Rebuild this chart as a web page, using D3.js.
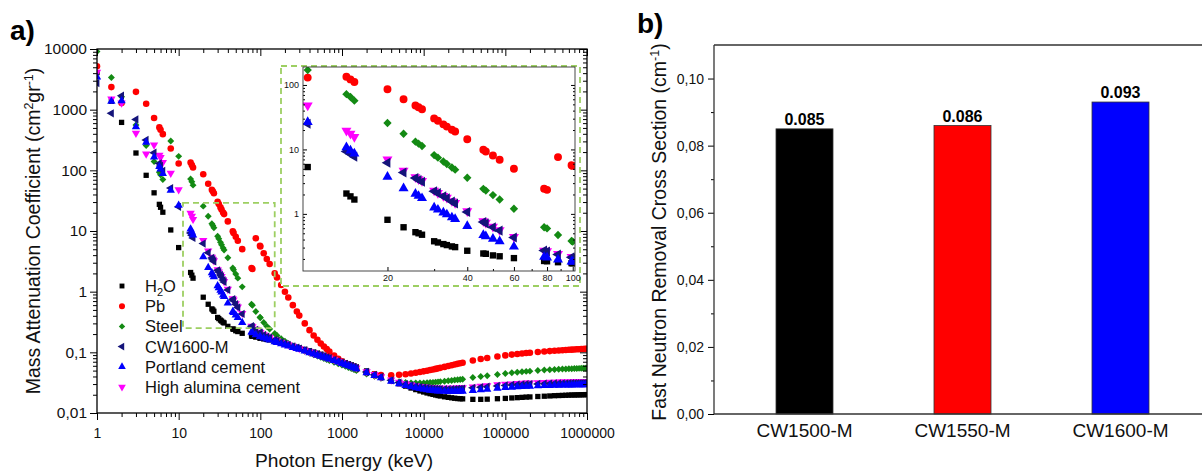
<!DOCTYPE html>
<html>
<head>
<meta charset="utf-8">
<script src="https://cdn.jsdelivr.net/npm/d3@7"></script>
<style>
  body { margin: 0; background: #fff; }
  svg { font-family: "Liberation Sans", Arial, sans-serif; }
</style>
</head>
<body>
<svg id="chart" width="1202" height="475"></svg>
<script>
// photon energies (keV), shared by all materials
const energies = [
  1, 1.5, 2, 3, 4, 5, 5.8, 6, 6.4, 8, 10,
  14, 14.5, 15, 20, 23, 25.5, 26.2, 27, 30, 31, 32.5, 33.5, 35, 36, 40, 46, 47, 50, 53, 60, 78, 80, 88, 99, 100,
  110, 120, 130, 150, 160, 180, 200, 220, 250, 280, 300, 350, 400, 450, 500, 550, 600, 650, 700, 800, 900, 1000, 1100, 1200, 1300, 1400, 1500,
  2000, 2500, 3000, 4000,
  5000, 6000, 7000, 8000, 9000, 10000, 11000, 12000, 13000, 14000, 15000, 16000, 18000, 20000, 22000, 24000, 26000, 28000, 30000,
  40000, 50000, 60000, 80000,
  100000, 120000, 140000, 160000, 180000, 200000, 250000, 300000, 350000, 400000, 450000, 500000, 550000, 600000, 650000, 700000, 750000, 800000, 850000, 900000, 950000, 1000000
];

// mass attenuation coefficients (cm2/g)
const muWater = [
  4078, 1376, 617, 193, 82.8, 42.6, 27.5, 24.6, 20.4, 10.4, 5.33,
  2.07, 1.87, 1.67, 0.81, 0.62, 0.52, 0.50, 0.475, 0.376, 0.36, 0.34, 0.328, 0.313, 0.305, 0.268, 0.243, 0.24, 0.227, 0.22, 0.206, 0.186, 0.184, 0.178, 0.172, 0.171,
  0.1665, 0.163, 0.16, 0.1505, 0.147, 0.142, 0.137, 0.1325, 0.127, 0.121, 0.1186, 0.112, 0.1061, 0.101, 0.0969, 0.093, 0.0896, 0.0866, 0.0839, 0.0787, 0.0743, 0.0707, 0.0676, 0.0648, 0.0623, 0.0599, 0.0575,
  0.0494, 0.044, 0.0397, 0.034,
  0.0303, 0.0277, 0.0258, 0.0243, 0.0231, 0.0222, 0.0214, 0.0208, 0.0203, 0.0198, 0.0194, 0.0191, 0.0185, 0.0181, 0.0178, 0.0175, 0.0173, 0.0172, 0.0171,
  0.0168, 0.0168, 0.0169, 0.0172,
  0.0174, 0.0177, 0.0179, 0.0181, 0.0183, 0.0184, 0.0187, 0.0189, 0.0191, 0.0193, 0.0194, 0.0195, 0.0196, 0.0197, 0.0198, 0.0198, 0.0199, 0.0199, 0.02, 0.02, 0.0201, 0.0201
];
const muLead = [
  5210, 2356, 1285, 1965, 1251, 730, 510, 467, 395, 229, 130,
  134, 122, 111, 86, 60, 48, 45, 42, 30.3, 27.8, 24.5, 22.6, 20.2, 19, 14.4, 9.9, 9.3, 8.04, 6.9, 5.02, 2.45, 2.36, 7.6, 5.7, 5.55,
  4.3, 3.45, 2.85, 2.01, 1.72, 1.29, 0.999, 0.80, 0.60, 0.47, 0.403, 0.30, 0.232, 0.19, 0.161, 0.14, 0.125, 0.113, 0.103, 0.0887, 0.0785, 0.071, 0.0652, 0.0612, 0.058, 0.0547, 0.0522,
  0.0461, 0.0436, 0.0423, 0.042,
  0.0427, 0.0436, 0.0448, 0.046, 0.0473, 0.0486, 0.0498, 0.051, 0.0522, 0.0533, 0.0544, 0.0555, 0.0575, 0.0595, 0.0613, 0.063, 0.0646, 0.066, 0.0674,
  0.0735, 0.0775, 0.0808, 0.0855,
  0.089, 0.0918, 0.094, 0.0958, 0.0973, 0.0986, 0.1012, 0.1032, 0.1048, 0.1062, 0.1074, 0.1084, 0.1093, 0.1101, 0.1108, 0.1115, 0.1121, 0.1127, 0.1132, 0.1137, 0.1141, 0.1145
];
const muSteel = [
  9085, 3399, 1626, 558, 257, 140, 93, 84.4, 70.5, 305, 170,
  72, 65, 57, 25.7, 17.5, 13.2, 12.3, 11.3, 8.18, 7.45, 6.5, 5.95, 5.25, 4.85, 3.63, 2.45, 2.3, 1.96, 1.67, 1.2, 0.62, 0.595, 0.47, 0.38, 0.372,
  0.31, 0.27, 0.243, 0.205, 0.19, 0.168, 0.152, 0.14, 0.128, 0.119, 0.114, 0.104, 0.097, 0.091, 0.0865, 0.0825, 0.079, 0.076, 0.0735, 0.0688, 0.0648, 0.0615, 0.0587, 0.0562, 0.054, 0.052, 0.0502,
  0.0438, 0.0402, 0.0375, 0.0343,
  0.0327, 0.0318, 0.0314, 0.0312, 0.0312, 0.0313, 0.0315, 0.0318, 0.032, 0.0323, 0.0326, 0.0329, 0.0334, 0.0339, 0.0344, 0.0349, 0.0353, 0.0357, 0.0361,
  0.0385, 0.04, 0.0412, 0.0432,
  0.0448, 0.046, 0.047, 0.0478, 0.0485, 0.049, 0.0502, 0.051, 0.0517, 0.0522, 0.0527, 0.053, 0.0533, 0.0536, 0.0538, 0.054, 0.0542, 0.0544, 0.0545, 0.0547, 0.0548, 0.055
];
const muCW1600 = [
  2750, 870, 1700, 690, 316, 195, 130, 118, 98, 51, 25,
  9.3, 8.5, 7.7, 6.2, 4.4, 3.6, 3.35, 3.15, 2.25, 2.1, 1.88, 1.75, 1.55, 1.45, 1.07, 0.75, 0.71, 0.62, 0.55, 0.43, 0.27, 0.26, 0.235, 0.212, 0.208,
  0.193, 0.182, 0.174, 0.16, 0.154, 0.146, 0.139, 0.133, 0.125, 0.119, 0.115, 0.108, 0.102, 0.097, 0.0925, 0.0888, 0.0855, 0.0825, 0.08, 0.0752, 0.071, 0.0674, 0.0644, 0.0617, 0.0592, 0.057, 0.055,
  0.0474, 0.0426, 0.0392, 0.0346,
  0.0317, 0.0298, 0.0285, 0.0275, 0.0268, 0.0262, 0.0258, 0.0255, 0.0252, 0.025, 0.0249, 0.0248, 0.0247, 0.0247, 0.0247, 0.0248, 0.0249, 0.025, 0.0251,
  0.026, 0.0266, 0.0271, 0.0279,
  0.0285, 0.029, 0.0293, 0.0296, 0.0298, 0.03, 0.0302, 0.0304, 0.0305, 0.0306, 0.0307, 0.0308, 0.0308, 0.0309, 0.0309, 0.031, 0.031, 0.031, 0.0311, 0.0311, 0.0311, 0.0312
];
const muPortland = [
  3450, 1370, 1400, 520, 290, 165, 115, 105, 88, 47, 26.5,
  10.8, 9.6, 8.6, 3.75, 2.5, 2.05, 1.9, 1.75, 1.25, 1.16, 1.05, 0.98, 0.88, 0.83, 0.645, 0.47, 0.45, 0.41, 0.375, 0.31, 0.215, 0.21, 0.195, 0.182, 0.18,
  0.172, 0.165, 0.159, 0.149, 0.145, 0.138, 0.132, 0.127, 0.12, 0.115, 0.112, 0.105, 0.0985, 0.0935, 0.0895, 0.086, 0.0828, 0.08, 0.0775, 0.0728, 0.0688, 0.0653, 0.0624, 0.0598, 0.0574, 0.0553, 0.0533,
  0.0459, 0.0412, 0.0378, 0.0332,
  0.0303, 0.0284, 0.027, 0.026, 0.0252, 0.0246, 0.0241, 0.0237, 0.0234, 0.0232, 0.023, 0.0229, 0.0227, 0.0226, 0.0226, 0.0226, 0.0226, 0.0227, 0.0228,
  0.0235, 0.024, 0.0245, 0.0255,
  0.0262, 0.0266, 0.0269, 0.0272, 0.0274, 0.0276, 0.0279, 0.0282, 0.0284, 0.0285, 0.0286, 0.0287, 0.0288, 0.0289, 0.0289, 0.029, 0.029, 0.0291, 0.0291, 0.0292, 0.0292, 0.0293
];
const muHighAlumina = [
  4170, 1500, 1290, 410, 187, 262, 178, 163, 135, 90, 48,
  19.6, 17.5, 15.6, 7.0, 4.7, 3.7, 3.45, 3.25, 2.3, 2.12, 1.9, 1.78, 1.58, 1.48, 1.1, 0.77, 0.73, 0.635, 0.56, 0.44, 0.27, 0.265, 0.24, 0.216, 0.213,
  0.196, 0.185, 0.176, 0.162, 0.156, 0.147, 0.14, 0.134, 0.126, 0.12, 0.116, 0.109, 0.103, 0.098, 0.0935, 0.0897, 0.0863, 0.0833, 0.0807, 0.0759, 0.0717, 0.068, 0.065, 0.0623, 0.0598, 0.0576, 0.0556,
  0.048, 0.0432, 0.0398, 0.0352,
  0.0323, 0.0305, 0.0292, 0.0282, 0.0275, 0.027, 0.0266, 0.0263, 0.026, 0.0258, 0.0257, 0.0256, 0.0256, 0.0256, 0.0257, 0.0258, 0.0259, 0.026, 0.0262,
  0.027, 0.0277, 0.0283, 0.0292,
  0.0298, 0.0303, 0.0307, 0.031, 0.0312, 0.0314, 0.0317, 0.032, 0.0322, 0.0323, 0.0324, 0.0325, 0.0326, 0.0327, 0.0327, 0.0328, 0.0328, 0.0329, 0.0329, 0.033, 0.033, 0.0331
];

// panel b
const materials = ['CW1500-M', 'CW1550-M', 'CW1600-M'];
const removalCrossSection = [0.085, 0.086, 0.093];
const barColors = ['#000000', '#ff0000', '#0000ff'];

// tick labels
const xTickValues = [1, 10, 100, 1000, 10000, 100000, 1000000];
const yTickValues = [0.01, 0.1, 1, 10, 100, 1000, 10000];
const yTickLabels = ['0,01', '0,1', '1', '10', '100', '1000', '10000'];
const insetXTicks = [20, 40, 60, 80, 100];
const insetXMinor = [30, 50, 70, 90];
const insetYTicks = [1, 10, 100];
const barTicks = [0, 0.02, 0.04, 0.06, 0.08, 0.10];
const barMinorTicks = [0.01, 0.03, 0.05, 0.07, 0.09];

const svg = d3.select('#chart');

function logMinor(lo, hi, min, max) {
    let out = [];
    for (let p = lo; p < hi; p++) {
        for (let m = 2; m <= 9; m++) {
            let v = m * Math.pow(10, p);
            if (v > min && v < max) out.push(v);
        }
    }
    return out;
}

function styleAxis(g) {
    g.select('.domain').remove();
    g.selectAll('line').attr('stroke', '#000').attr('stroke-width', 1);
    g.selectAll('text').attr('fill', '#111');
}

// series look, legend order
const series = [
    {name: 'H2O', values: muWater, color: '#000000', symbol: d3.symbolSquare, size: 28, rotate: 0},
    {name: 'Pb', values: muLead, color: '#ff0000', symbol: d3.symbolCircle, size: 34, rotate: 0},
    {name: 'Steel', values: muSteel, color: '#138a13', symbol: d3.symbolSquare, size: 24, rotate: 45},
    {name: 'CW1600-M', values: muCW1600, color: '#14147a', symbol: d3.symbolTriangle, size: 30, rotate: -90},
    {name: 'Portland cement', values: muPortland, color: '#0000ff', symbol: d3.symbolTriangle, size: 30, rotate: 0},
    {name: 'High alumina cement', values: muHighAlumina, color: '#ff00ff', symbol: d3.symbolTriangle, size: 30, rotate: 180}
];
const drawOrder = [0, 1, 2, 5, 3, 4];

function drawPoints(g, xs, ys, scaleUp) {
    drawOrder.forEach(idx => {
        let s = series[idx];
        let sym = d3.symbol().type(s.symbol).size(s.size * scaleUp);
        let pts = energies.map((e, i) => ({e: e, v: s.values[i]}));
        g.append('g').selectAll('path')
            .data(pts)
            .enter().append('path')
            .attr('d', sym)
            .attr('fill', s.color)
            .attr('transform', d => `translate(${xs(d.e)},${ys(d.v)}) rotate(${s.rotate})`);
    });
}

// ---------------- panel a ----------------
const mainX = d3.scaleLog().domain([1, 1e6]).range([97, 587]);
const mainY = d3.scaleLog().domain([0.01, 10000]).range([413, 49]);

svg.append('clipPath').attr('id', 'clipMain')
    .append('rect').attr('x', 97).attr('y', 49).attr('width', 490).attr('height', 364);

let mainPoints = svg.append('g').attr('clip-path', 'url(#clipMain)');
drawPoints(mainPoints, mainX, mainY, 1);

// bottom axis
svg.append('g').attr('transform', 'translate(0,413)')
    .call(d3.axisBottom(mainX).tickValues(xTickValues).tickFormat(d3.format('d')).tickSize(7).tickPadding(8))
    .call(styleAxis)
    .selectAll('text').attr('font-size', 14);
svg.append('g').attr('transform', 'translate(0,413)')
    .call(d3.axisBottom(mainX).tickValues(logMinor(0, 6, 1, 1e6)).tickFormat('').tickSize(4))
    .call(styleAxis);
// top mirror
svg.append('g').attr('transform', 'translate(0,49)')
    .call(d3.axisBottom(mainX).tickValues(xTickValues).tickFormat('').tickSize(7))
    .call(styleAxis);
svg.append('g').attr('transform', 'translate(0,49)')
    .call(d3.axisBottom(mainX).tickValues(logMinor(0, 6, 1, 1e6)).tickFormat('').tickSize(4))
    .call(styleAxis);
// left axis
svg.append('g').attr('transform', 'translate(97,0)')
    .call(d3.axisLeft(mainY).tickValues(yTickValues).tickFormat((d, i) => yTickLabels[i]).tickSize(7).tickPadding(3))
    .call(styleAxis)
    .selectAll('text').attr('font-size', 15.5);
svg.append('g').attr('transform', 'translate(97,0)')
    .call(d3.axisLeft(mainY).tickValues(logMinor(-2, 4, 0.01, 10000)).tickFormat('').tickSize(4))
    .call(styleAxis);
// right mirror
svg.append('g').attr('transform', 'translate(587,0)')
    .call(d3.axisLeft(mainY).tickValues(yTickValues).tickFormat('').tickSize(7))
    .call(styleAxis);
svg.append('g').attr('transform', 'translate(587,0)')
    .call(d3.axisLeft(mainY).tickValues(logMinor(-2, 4, 0.01, 10000)).tickFormat('').tickSize(4))
    .call(styleAxis);

svg.append('rect').attr('x', 97).attr('y', 49).attr('width', 490).attr('height', 364)
    .attr('fill', 'none').attr('stroke', '#000').attr('stroke-width', 1.3);

// zoom box marking the inset range
const zoomBoxX = [11.3, 150];
const zoomBoxY = [0.25, 29];
const dashColor = '#9dcf62';
svg.append('rect')
    .attr('x', mainX(zoomBoxX[0])).attr('y', mainY(zoomBoxY[1]))
    .attr('width', mainX(zoomBoxX[1]) - mainX(zoomBoxX[0]))
    .attr('height', mainY(zoomBoxY[0]) - mainY(zoomBoxY[1]))
    .attr('fill', 'none').attr('stroke', dashColor).attr('stroke-width', 1.8)
    .attr('stroke-dasharray', '6,4');

// inset
svg.append('rect').attr('x', 281).attr('y', 66).attr('width', 299).attr('height', 220)
    .attr('fill', '#fff').attr('stroke', dashColor).attr('stroke-width', 1.8)
    .attr('stroke-dasharray', '6,4');

const insetX = d3.scaleLog().domain([9.6, 102]).range([303, 575]);
const insetY = d3.scaleLog().domain([0.13, 190]).range([271, 67]);

svg.append('clipPath').attr('id', 'clipInset')
    .append('rect').attr('x', 303).attr('y', 67).attr('width', 272).attr('height', 204);
let insetPoints = svg.append('g').attr('clip-path', 'url(#clipInset)');
drawPoints(insetPoints, insetX, insetY, 1.45);

svg.append('g').attr('transform', 'translate(0,271)')
    .call(d3.axisBottom(insetX).tickValues(insetXTicks).tickFormat(d3.format('d')).tickSizeInner(-4).tickSizeOuter(0).tickPadding(4))
    .call(styleAxis)
    .selectAll('text').attr('font-size', 9);
svg.append('g').attr('transform', 'translate(0,271)')
    .call(d3.axisBottom(insetX).tickValues(insetXMinor).tickFormat('').tickSizeInner(-2).tickSizeOuter(0))
    .call(styleAxis);
svg.append('g').attr('transform', 'translate(303,0)')
    .call(d3.axisLeft(insetY).tickValues(insetYTicks).tickFormat(d3.format('d')).tickSizeInner(-4).tickSizeOuter(0).tickPadding(4))
    .call(styleAxis)
    .selectAll('text').attr('font-size', 9);
svg.append('g').attr('transform', 'translate(303,0)')
    .call(d3.axisLeft(insetY).tickValues(logMinor(-1, 3, 0.13, 190)).tickFormat('').tickSizeInner(-2).tickSizeOuter(0))
    .call(styleAxis);
svg.append('g').attr('transform', 'translate(575,0)')
    .call(d3.axisRight(insetY).tickValues(insetYTicks).tickFormat('').tickSizeInner(-4).tickSizeOuter(0))
    .call(styleAxis);
svg.append('g').attr('transform', 'translate(575,0)')
    .call(d3.axisRight(insetY).tickValues(logMinor(-1, 3, 0.13, 190)).tickFormat('').tickSizeInner(-2).tickSizeOuter(0))
    .call(styleAxis);
svg.append('rect').attr('x', 303).attr('y', 67).attr('width', 272).attr('height', 204)
    .attr('fill', 'none').attr('stroke', '#333').attr('stroke-width', 0.9);

// legend
const legendTop = 286, legendStep = 20.2;
series.forEach((s, i) => {
    let ly = legendTop + i * legendStep;
    svg.append('path')
        .attr('d', d3.symbol().type(s.symbol).size(s.size * 0.85))
        .attr('fill', s.color)
        .attr('transform', `translate(122,${ly}) rotate(${s.rotate})`);
    let t = svg.append('text').attr('x', 145).attr('y', ly).attr('dy', '0.36em')
        .attr('font-size', 16.5).attr('fill', '#111');
    if (s.name === 'H2O') {
        t.append('tspan').text('H');
        t.append('tspan').attr('font-size', 11).attr('dy', 4).text('2');
        t.append('tspan').attr('dy', -4).text('O');
    } else {
        t.text(s.name);
    }
});

// titles
svg.append('text').attr('x', 10).attr('y', 40).attr('font-size', 28).attr('font-weight', 'bold').text('a)');
svg.append('text').attr('x', 344).attr('y', 467).attr('text-anchor', 'middle').attr('font-size', 19.2)
    .attr('fill', '#111').text('Photon Energy (keV)');
let yTitle = svg.append('text').attr('transform', 'translate(40,231) rotate(-90)')
    .attr('text-anchor', 'middle').attr('font-size', 19.5).attr('fill', '#111');
yTitle.append('tspan').text('Mass Attenuation Coefficient (cm');
yTitle.append('tspan').attr('font-size', 12.5).attr('dy', -7).text('2');
yTitle.append('tspan').attr('dy', 7).text('gr');
yTitle.append('tspan').attr('font-size', 12.5).attr('dy', -7).text('-1');
yTitle.append('tspan').attr('dy', 7).text(')');

// ---------------- panel b ----------------
const barX = d3.scalePoint().domain(materials).range([804.5, 1120.5]);
const barY = d3.scaleLinear().domain([0, 0.11]).range([414, 45]);
const barWidth = 57;

svg.append('g').selectAll('rect')
    .data(materials)
    .enter().append('rect')
    .attr('x', d => barX(d) - barWidth / 2)
    .attr('y', (d, i) => barY(removalCrossSection[i]))
    .attr('width', barWidth)
    .attr('height', (d, i) => barY(0) - barY(removalCrossSection[i]))
    .attr('fill', (d, i) => barColors[i])
    .attr('stroke', '#333').attr('stroke-width', 0.8);

svg.append('g').selectAll('text')
    .data(materials)
    .enter().append('text')
    .attr('x', d => barX(d))
    .attr('y', (d, i) => barY(removalCrossSection[i]) - 4)
    .attr('text-anchor', 'middle').attr('font-size', 16).attr('font-weight', 'bold')
    .text((d, i) => d3.format('.3f')(removalCrossSection[i]));

svg.append('g').attr('transform', 'translate(714,0)')
    .call(d3.axisLeft(barY).tickValues(barTicks).tickFormat(d => d3.format('.2f')(d).replace('.', ',')).tickSize(6).tickPadding(4))
    .call(styleAxis)
    .selectAll('text').attr('font-size', 14);
svg.append('g').attr('transform', 'translate(714,0)')
    .call(d3.axisLeft(barY).tickValues(barMinorTicks).tickFormat('').tickSize(3))
    .call(styleAxis);

svg.append('line').attr('x1', 714).attr('x2', 714).attr('y1', 45).attr('y2', 414)
    .attr('stroke', '#333').attr('stroke-width', 1.3);
svg.append('line').attr('x1', 714).attr('x2', 1202).attr('y1', 414).attr('y2', 414)
    .attr('stroke', '#333').attr('stroke-width', 1.3);
svg.append('line').attr('x1', 714).attr('x2', 1202).attr('y1', 45).attr('y2', 45)
    .attr('stroke', '#333').attr('stroke-width', 1.3);

svg.append('g').selectAll('text')
    .data(materials)
    .enter().append('text')
    .attr('x', d => barX(d)).attr('y', 437)
    .attr('text-anchor', 'middle').attr('font-size', 19).attr('fill', '#111')
    .text(d => d);

svg.append('text').attr('x', 637).attr('y', 33).attr('font-size', 28).attr('font-weight', 'bold').text('b)');
let bTitle = svg.append('text').attr('transform', 'translate(666,232) rotate(-90)')
    .attr('text-anchor', 'middle').attr('font-size', 19.5).attr('fill', '#111');
bTitle.append('tspan').text('Fast Neutron Removal Cross Section (cm');
bTitle.append('tspan').attr('font-size', 12.5).attr('dy', -7).text('-1');
bTitle.append('tspan').attr('dy', 7).text(')');
</script>
</body>
</html>
